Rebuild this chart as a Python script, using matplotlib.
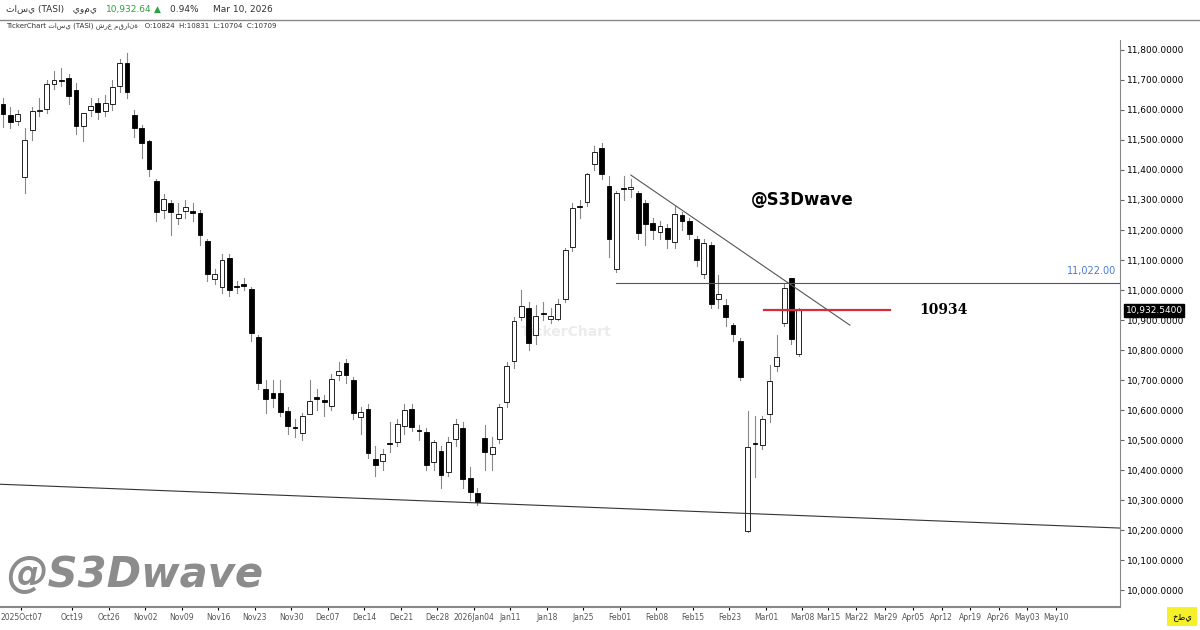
import matplotlib
matplotlib.use("Agg")
import matplotlib.pyplot as plt
import numpy as np
from matplotlib.patches import Rectangle

# daily TASI candles, Oct 05 2025 .. Mar 10 2026
opens = [11620, 11583, 11563, 11377, 11533, 11597, 11603, 11687, 11700, 11707,
         11667, 11547, 11600, 11623, 11597, 11620, 11680, 11757, 11583, 11540,
         11497, 11363, 11267, 11290, 11240, 11263, 11262, 11257, 11163, 11037,
         11010, 11107, 11015, 11019, 11003, 10843, 10670, 10657, 10657, 10597,
         10545, 10523, 10587, 10642, 10632, 10613, 10717, 10757, 10700, 10577,
         10603, 10437, 10430, 10492, 10493, 10547, 10603, 10535, 10527, 10427,
         10463, 10393, 10503, 10540, 10373, 10323, 10507, 10453, 10503, 10627,
         10763, 10910, 10940, 10850, 10925, 10903, 10903, 10970, 11143, 11279,
         11293, 11420, 11473, 11347, 11070, 11339, 11337, 11323, 11290, 11223,
         11193, 11207, 11160, 11250, 11230, 11170, 11053, 11150, 10970, 10950,
         10883, 10830, 10197, 10492, 10483, 10587, 10747, 10890, 11040, 10787]
closes = [11587, 11560, 11587, 11500, 11597, 11600, 11687, 11700, 11697, 11647,
          11547, 11590, 11613, 11593, 11623, 11677, 11757, 11660, 11540, 11490,
          11403, 11260, 11303, 11260, 11253, 11277, 11258, 11183, 11053, 11053,
          11100, 11000, 11011, 11015, 10857, 10690, 10637, 10640, 10593, 10547,
          10541, 10580, 10630, 10638, 10628, 10703, 10730, 10717, 10590, 10593,
          10457, 10417, 10453, 10488, 10553, 10600, 10543, 10531, 10417, 10493,
          10383, 10493, 10553, 10370, 10327, 10293, 10460, 10477, 10610, 10747,
          10897, 10947, 10823, 10913, 10921, 10913, 10953, 11133, 11273, 11275,
          11387, 11460, 11387, 11170, 11323, 11335, 11343, 11190, 11220, 11200,
          11213, 11170, 11253, 11230, 11187, 11100, 11157, 10953, 10987, 10910,
          10853, 10710, 10477, 10488, 10570, 10697, 10777, 11007, 10837, 10933]
highs = [11640, 11610, 11600, 11540, 11610, 11640, 11700, 11730, 11740, 11720,
         11690, 11590, 11640, 11640, 11650, 11700, 11770, 11790, 11600, 11550,
         11500, 11370, 11320, 11300, 11290, 11300, 11290, 11265, 11170, 11070,
         11120, 11120, 11030, 11040, 11010, 10850, 10700, 10700, 10700, 10610,
         10570, 10590, 10700, 10670, 10650, 10720, 10760, 10770, 10710, 10610,
         10620, 10480, 10470, 10560, 10570, 10620, 10620, 10550, 10540, 10500,
         10480, 10510, 10570, 10560, 10410, 10340, 10550, 10510, 10620, 10760,
         10910, 11000, 10960, 10950, 10960, 10940, 10970, 11140, 11290, 11300,
         11390, 11480, 11490, 11380, 11330, 11380, 11370, 11330, 11300, 11240,
         11230, 11220, 11280, 11260, 11240, 11180, 11170, 11160, 11050, 10970,
         10890, 10840, 10597, 10580, 10580, 10750, 10850, 11020, 11040, 10940]
lows = [11543, 11540, 11550, 11323, 11500, 11580, 11590, 11670, 11680, 11620,
        11520, 11495, 11580, 11570, 11580, 11600, 11660, 11640, 11510, 11440,
        11380, 11230, 11240, 11183, 11220, 11240, 11230, 11150, 11030, 11020,
        10990, 10980, 10990, 11000, 10830, 10670, 10590, 10610, 10580, 10520,
        10510, 10500, 10600, 10600, 10580, 10600, 10700, 10690, 10570, 10520,
        10440, 10380, 10400, 10460, 10480, 10520, 10530, 10500, 10400, 10400,
        10340, 10380, 10480, 10340, 10300, 10283, 10400, 10400, 10490, 10610,
        10740, 10900, 10800, 10820, 10900, 10890, 10900, 10960, 11130, 11240,
        11280, 11400, 11370, 11110, 11060, 11300, 11310, 11170, 11150, 11170,
        11170, 11140, 11140, 11200, 11170, 11080, 11040, 10940, 10940, 10880,
        10830, 10700, 10193, 10377, 10470, 10560, 10730, 10880, 10820, 10780]

week_labels = ["2025Oct07", "Oct19", "Oct26", "Nov02", "Nov09", "Nov16", "Nov23", "Nov30",
               "Dec07", "Dec14", "Dec21", "Dec28", "2026Jan04", "Jan11", "Jan18", "Jan25",
               "Feb01", "Feb08", "Feb15", "Feb23", "Mar01", "Mar08"]
future_labels = ["Mar15", "Mar22", "Mar29", "Apr05", "Apr12", "Apr19", "Apr26", "May03", "May10"]

resistance = 11022.00
target = 10934
last_price = 10932.54

fig = plt.figure(figsize=(12, 6.3), dpi=100)
# axes spans pixel rows 40..607
ax = fig.add_axes([0, 23 / 630, 1120 / 1200, 567 / 630])
ax.set_xlim(-0.4, 153)
ax.set_ylim(9944, 11833)

x = np.arange(len(opens))
for i in x:
    o, c, h, l = opens[i], closes[i], highs[i], lows[i]
    ax.plot([i, i], [l, h], color="#888888", lw=0.8, zorder=1)
    up = c >= o
    body = max(abs(c - o), 4)
    ax.add_patch(Rectangle((i - 0.33, min(o, c)), 0.66, body,
                           facecolor="white" if up else "black",
                           edgecolor="black", lw=0.6, zorder=2))

# trend lines
ax.plot([-0.4, 153], [10353, 10207], color="#333333", lw=0.8)
ax.plot([86, 116], [11383, 10883], color="#555555", lw=0.8)
ax.plot([84, 153], [resistance, resistance], color="#555555", lw=0.8)
ax.plot([104.3, 121.5], [target, target], color="#d62d3a", lw=1.6)
ax.text(125.5, target, "10934", fontsize=10, fontweight="bold", family="DejaVu Serif",
        va="center")
ax.text(102.5, 11300, "@S3Dwave", fontsize=12, fontweight="bold", va="center")
ax.text(152.5, resistance + 25, "11,022.00", fontsize=7, color="#4a7bd0", ha="right",
        va="bottom")
ax.text(71, 10860, "TickerChart", fontsize=10, fontweight="bold", color="#ececec",
        va="center", zorder=0)

# right price axis
ax.yaxis.tick_right()
ticks = np.arange(10000, 11801, 100)
ax.set_yticks(ticks)
ax.set_yticklabels([f"{t:,.4f}" for t in ticks], fontsize=6.5)
ax.tick_params(axis="y", length=3, color="#666666", pad=2)
# x labels
pos = [2.5] + [9.5 + 5 * k for k in range(len(week_labels) - 1)]
pos += [113 + 3.9 * k for k in range(len(future_labels))]
ax.set_xticks(pos)
ax.set_xticklabels(week_labels + future_labels, fontsize=5.5, color="#555555")
ax.tick_params(axis="x", length=2, pad=2)
for s in ["top", "left"]:
    ax.spines[s].set_visible(False)
ax.spines["bottom"].set_color("#888888")
ax.spines["bottom"].set_linewidth(1.5)
ax.spines["right"].set_color("#888888")

ax.annotate(f"{last_price:,.4f}", xy=(1.0, last_price), xycoords=("axes fraction", "data"),
            xytext=(4, 0), textcoords="offset points", fontsize=6.5, color="white",
            va="center", bbox=dict(boxstyle="square,pad=0.2", fc="black", ec="black"))

# header
fig.text(0.005, 0.985, "تاسي (TASI)   يومي", fontsize=6.5, va="center", color="#333333")
fig.text(0.088, 0.985, "10,932.64", fontsize=6.5, va="center", color="#2e9e3e")
fig.text(0.128, 0.985, "▲", fontsize=6.5, va="center", color="#2e9e3e")
fig.text(0.142, 0.985, "0.94%     Mar 10, 2026", fontsize=6.5, va="center", color="#333333")
fig.add_artist(plt.Line2D([0, 1], [0.968, 0.968], color="#888888", lw=1))
fig.text(0.005, 0.958, "TickerChart تاسي (TASI) شرع مقرانة   O:10824  H:10831  L:10704  C:10709",
         fontsize=5, va="center", color="#333333")

fig.text(0.005, 0.087, "@S3Dwave", fontsize=30, fontweight="bold", style="italic",
         color="#8c8c8c", va="center")
fig.text(0.985, 0.022, "خطي", fontsize=6, va="center", ha="center",
         bbox=dict(boxstyle="square,pad=0.6", fc="#f5f02a", ec="none"))

fig.savefig("out.png", dpi=100)
